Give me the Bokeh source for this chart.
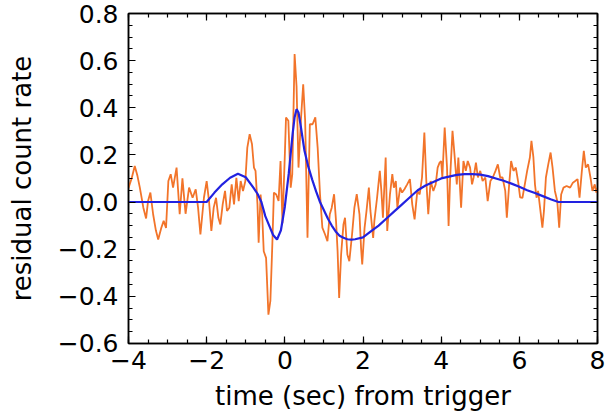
from bokeh.plotting import figure
from bokeh.models import Range1d, SingleIntervalTicker, CustomJSTickFormatter, LinearAxis
from bokeh.embed import file_html
from bokeh.resources import INLINE

# observed residual count rate (time in s, residual)
obs_t = [-4.00, -3.92, -3.84, -3.77, -3.71, -3.62, -3.55, -3.50, -3.44, -3.37, -3.30, -3.24, -3.16, -3.10, -3.04,
         -2.98, -2.92, -2.86, -2.77, -2.69, -2.62, -2.54, -2.45, -2.36, -2.28, -2.22, -2.16, -2.07, -2.00,
         -1.94, -1.88, -1.82, -1.76, -1.70, -1.65, -1.59, -1.53, -1.48, -1.42, -1.36, -1.30, -1.24, -1.18,
         -1.13, -1.07, -1.01, -0.96, -0.90, -0.84, -0.79, -0.75, -0.70, -0.67, -0.62, -0.58, -0.54, -0.48,
         -0.42, -0.37, -0.32, -0.28, -0.22, -0.16, -0.11, -0.06, 0.00, 0.03, 0.09, 0.15, 0.19, 0.25, 0.30,
         0.35, 0.41, 0.47, 0.52, 0.58, 0.64, 0.71, 0.78, 0.84, 0.90, 0.96, 1.03, 1.09, 1.15, 1.20, 1.26,
         1.31, 1.35, 1.39, 1.44, 1.50, 1.54, 1.60, 1.65, 1.72, 1.78, 1.84, 1.91, 1.95, 1.98, 2.04, 2.09,
         2.15, 2.19, 2.26, 2.29, 2.36, 2.43, 2.47, 2.51, 2.58, 2.62, 2.69, 2.75, 2.79, 2.84, 2.88, 2.95,
         3.00, 3.06, 3.13, 3.20, 3.26, 3.32, 3.39, 3.45, 3.51, 3.57, 3.62, 3.67, 3.73, 3.80, 3.86, 3.91,
         3.96, 4.00, 4.03, 4.09, 4.15, 4.19, 4.23, 4.29, 4.34, 4.40, 4.44, 4.51, 4.57, 4.63, 4.68, 4.74,
         4.79, 4.83, 4.89, 4.94, 5.00, 5.06, 5.13, 5.19, 5.26, 5.32, 5.39, 5.45, 5.51, 5.57, 5.64, 5.68,
         5.74, 5.79, 5.85, 5.91, 5.97, 6.02, 6.08, 6.14, 6.20, 6.27, 6.31, 6.36, 6.40, 6.44, 6.48, 6.54,
         6.59, 6.63, 6.68, 6.74, 6.80, 6.85, 6.91, 6.97, 7.02, 7.07, 7.13, 7.21, 7.30, 7.37, 7.43, 7.49,
         7.54, 7.60, 7.65, 7.70, 7.76, 7.82, 7.87, 7.93, 7.97, 8.00]
obs_rate = [0.06, 0.10, 0.153, 0.11, 0.061, -0.024, -0.07, 0.004, 0.04, -0.052, -0.12, -0.159, -0.109, -0.08, -0.11,
            0.089, 0.118, 0.061, 0.146, -0.052, 0.10, -0.05, 0.061, 0.018, 0.054, -0.024, -0.138, 0.018, 0.089,
            0.004, -0.123, -0.024, 0.018, -0.067, -0.095, -0.01, 0.047, -0.038, -0.024, 0.075, -0.01, 0.103, 0.004,
            0.089, 0.047, 0.089, 0.231, 0.288, 0.245, 0.146, 0.132, -0.01, -0.173, 0.032, -0.052, -0.209, -0.237,
            -0.478, -0.42, -0.18, 0.04, 0.032, 0.004, 0.174, -0.09, 0.20, 0.359, 0.345, 0.061, 0.117, 0.628, 0.49,
            0.146, 0.345, 0.50, 0.345, -0.152, 0.33, 0.33, 0.359, 0.23, 0.033, -0.109, -0.138, -0.166, -0.052, -0.024, 0.033,
            -0.081, -0.209, -0.407, -0.223, -0.095, -0.067, -0.223, -0.251, -0.138, -0.024, 0.033, -0.052, -0.194, -0.265, -0.11, -0.038,
            0.061, -0.038, -0.152, -0.081, 0.018, 0.132, 0.047, -0.067, 0.189, -0.123, 0.032, 0.118, 0.061, 0.089, -0.024, 0.061,
            0.04, 0.054, 0.075, 0.097, -0.01, -0.074, 0.047, 0.032, 0.104, 0.295, 0.089, -0.052, 0.089, 0.047, 0.075, 0.146,
            0.167, 0.174, 0.104, 0.316, 0.146, -0.102, 0.104, 0.302, 0.203, 0.075, 0.189, -0.024, 0.174, 0.132, 0.174, 0.146,
            0.075, 0.104, 0.167, 0.104, 0.132, 0.089, 0.104, 0.004, 0.089, 0.104, 0.132, 0.16, 0.104, 0.104, 0.047, -0.067,
            0.075, 0.174, 0.132, 0.146, 0.085, 0.02, 0.018, 0.075, 0.132, 0.189, 0.26, 0.189, 0.075, 0.018, 0.047, -0.038,
            -0.109, -0.038, 0.104, 0.16, 0.21, 0.146, 0.047, 0.004, -0.109, 0.032, 0.061, 0.068, 0.061, 0.082, 0.089, 0.097,
            0.018, 0.132, 0.217, 0.146, 0.16, 0.104, 0.047, 0.075, 0.04, 0.06]

# fitted model curve
model_t = [-4.0, -2.0, -1.8, -1.6, -1.4, -1.2, -1.0, -0.8, -0.7, -0.6, -0.5, -0.4, -0.3, -0.2, -0.1, 0.0, 0.1,
           0.2, 0.25, 0.3, 0.35, 0.4, 0.5, 0.6, 0.7, 0.8, 0.9, 1.0, 1.1, 1.2, 1.3, 1.4, 1.5, 1.6, 1.7, 1.8,
           2.0, 2.2, 2.4, 2.6, 2.8, 3.0, 3.2, 3.4, 3.6, 3.8, 4.0, 4.2, 4.4, 4.6, 4.8, 5.0, 5.2, 5.4, 5.6,
           5.8, 6.0, 6.2, 6.4, 6.6, 6.8, 7.0, 8.0]
model_v = [0.0, 0.0, 0.04, 0.075, 0.103, 0.12, 0.105, 0.06, 0.035, 0.0, -0.06, -0.10, -0.14, -0.159, -0.12, -0.02, 0.12,
           0.29, 0.36, 0.394, 0.38, 0.33, 0.22, 0.15, 0.095, 0.045, 0.0, -0.035, -0.07, -0.10, -0.125, -0.143, -0.152, -0.158, -0.16, -0.158,
           -0.15, -0.125, -0.1, -0.07, -0.04, -0.01, 0.02, 0.05, 0.07, 0.085, 0.1, 0.108, 0.115, 0.118, 0.118, 0.116, 0.11, 0.1, 0.09,
           0.078, 0.065, 0.05, 0.038, 0.025, 0.012, 0.0, 0.0]

FONT = "DejaVu Sans"
TICK_SIZE = "25px"
LABEL_SIZE = "26px"

p = figure(width=608, height=419, x_range=Range1d(-4, 8), y_range=Range1d(-0.6005, 0.8),
           output_backend="svg", toolbar_location=None,
           min_border_left=128, min_border_right=11, min_border_top=13, min_border_bottom=76)
p.grid.visible = False
p.background_fill_color = "white"
p.border_fill_color = "white"
p.outline_line_color = "black"
p.outline_line_width = 1.5

p.line(obs_t, obs_rate, line_color="#F2742A", line_width=1.8)
p.line(model_t, model_v, line_color="#2222E0", line_width=2.2)

fmt_x = CustomJSTickFormatter(code="""
const v = Math.abs(tick) < 1e-9 ? 0 : tick;
return v.toFixed(0).replace('-', '\\u2212');
""")
fmt_y = CustomJSTickFormatter(code="""
const v = Math.abs(tick) < 1e-9 ? 0 : tick;
return v.toFixed(1).replace('-', '\\u2212');
""")
fmt_blank = CustomJSTickFormatter(code="return '';")

def style(ax, labels):
    ax.axis_line_color = "black"
    ax.axis_line_width = 1.5
    ax.major_tick_in = 7
    ax.major_tick_out = 0
    ax.minor_tick_in = 4
    ax.minor_tick_out = 0
    ax.major_tick_line_color = "black"
    ax.minor_tick_line_color = "black"
    ax.major_tick_line_width = 1.2
    ax.minor_tick_line_width = 1.2
    if labels:
        ax.major_label_text_font = FONT
        ax.major_label_text_font_size = TICK_SIZE
        ax.major_label_text_color = "black"
        ax.axis_label_text_font = FONT
        ax.axis_label_text_font_size = LABEL_SIZE
        ax.axis_label_text_font_style = "normal"
        ax.axis_label_text_color = "black"
    else:
        ax.formatter = fmt_blank
        ax.major_label_text_color = None
        ax.major_label_standoff = 0
        ax.axis_label = None

xb = p.xaxis[0]
xb.ticker = SingleIntervalTicker(interval=2, num_minor_ticks=4)
xb.formatter = fmt_x
xb.axis_label = "time (sec) from trigger"
style(xb, True)
xb.major_label_standoff = 7
xb.axis_label_standoff = 9

yl = p.yaxis[0]
yl.ticker = SingleIntervalTicker(interval=0.2, num_minor_ticks=4)
yl.formatter = fmt_y
yl.axis_label = "residual count rate"
style(yl, True)
yl.major_label_standoff = 10
yl.axis_label_standoff = 18

xa = LinearAxis(ticker=SingleIntervalTicker(interval=2, num_minor_ticks=4))
style(xa, False)
p.add_layout(xa, "above")

yr = LinearAxis(ticker=SingleIntervalTicker(interval=0.2, num_minor_ticks=4))
style(yr, False)
p.add_layout(yr, "right")

open("out.html", "w").write(file_html(p, INLINE))
